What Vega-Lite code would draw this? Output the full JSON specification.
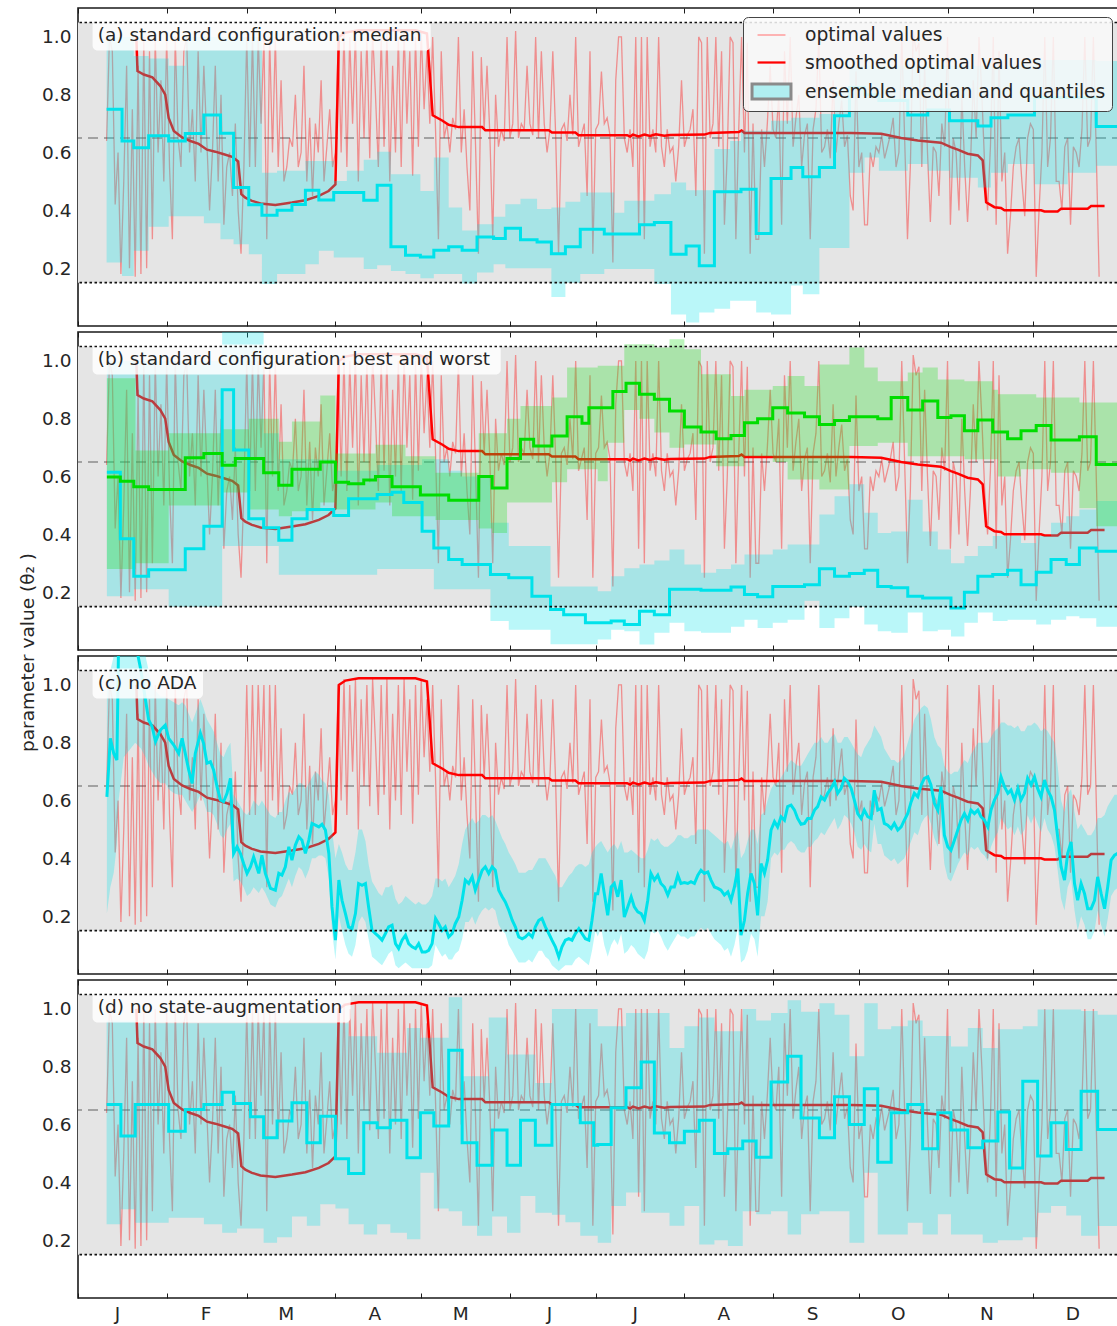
{
"$schema":"https://vega.github.io/schema/vega-lite/v6.json",
"padding":{"left":17,"top":6,"right":0,"bottom":0},
"background":"white",
"spacing":6,
"bounds":"flush",
"resolve":{"scale":{"shape":"independent","stroke":"independent","fill":"independent","strokeWidth":"independent"},"legend":{"shape":"independent","stroke":"independent","fill":"independent","strokeWidth":"independent"}},
"config":{
 "view":{"stroke":"#1a1a1a","strokeWidth":1.6},
 "font":"DejaVu Sans",
 "axis":{"domain":false,"grid":false,"tickColor":"#1a1a1a","tickSize":-5,"tickWidth":1,"labelFont":"DejaVu Sans","labelFontSize":18.5,"labelColor":"#262626","titleFont":"DejaVu Sans","titleFontSize":18.5,"titleColor":"#262626","titleFontWeight":"normal"}
},
"datasets":{
"opt":[{"d":10,"v":0.64},{"d":11,"v":1.0},{"d":12,"v":0.95},{"d":13,"v":0.42},{"d":14,"v":0.6},{"d":15,"v":0.18},{"d":16,"v":0.5},{"d":17,"v":0.9},{"d":18,"v":0.2},{"d":19,"v":0.75},{"d":20,"v":0.17},{"d":21,"v":0.9},{"d":22,"v":0.18},{"d":23,"v":1.0},{"d":24,"v":0.2},{"d":25,"v":0.95},{"d":26,"v":0.3},{"d":27,"v":1.0},{"d":28,"v":0.6},{"d":29,"v":0.85},{"d":30,"v":0.5},{"d":31,"v":1.0},{"d":32,"v":0.55},{"d":33,"v":0.3},{"d":34,"v":1.0},{"d":35,"v":0.65},{"d":36,"v":0.55},{"d":37,"v":0.95},{"d":38,"v":1.0},{"d":39,"v":0.6},{"d":40,"v":0.75},{"d":41,"v":0.5},{"d":42,"v":0.95},{"d":43,"v":0.6},{"d":44,"v":0.9},{"d":45,"v":0.65},{"d":46,"v":0.4},{"d":47,"v":0.6},{"d":48,"v":0.9},{"d":49,"v":0.5},{"d":50,"v":0.8},{"d":51,"v":0.35},{"d":52,"v":0.55},{"d":53,"v":0.6},{"d":54,"v":0.45},{"d":55,"v":0.7},{"d":56,"v":0.4},{"d":57,"v":0.25},{"d":58,"v":0.55},{"d":59,"v":1.0},{"d":60,"v":0.55},{"d":61,"v":1.0},{"d":62,"v":0.55},{"d":63,"v":1.0},{"d":64,"v":0.7},{"d":65,"v":1.0},{"d":66,"v":0.3},{"d":67,"v":1.0},{"d":68,"v":0.6},{"d":69,"v":1.0},{"d":70,"v":0.55},{"d":71,"v":0.85},{"d":72,"v":0.5},{"d":73,"v":0.55},{"d":74,"v":0.65},{"d":75,"v":0.62},{"d":76,"v":0.8},{"d":77,"v":0.55},{"d":78,"v":0.6},{"d":79,"v":0.9},{"d":80,"v":0.5},{"d":81,"v":0.72},{"d":82,"v":0.45},{"d":83,"v":0.7},{"d":84,"v":0.6},{"d":85,"v":0.85},{"d":86,"v":0.5},{"d":87,"v":0.62},{"d":88,"v":0.75},{"d":89,"v":0.55},{"d":90,"v":0.6},{"d":91,"v":1.0},{"d":92,"v":0.6},{"d":93,"v":1.02},{"d":94,"v":0.55},{"d":95,"v":1.0},{"d":96,"v":0.7},{"d":97,"v":1.02},{"d":98,"v":0.5},{"d":99,"v":0.95},{"d":100,"v":0.65},{"d":101,"v":1.0},{"d":102,"v":0.58},{"d":103,"v":1.02},{"d":104,"v":0.8},{"d":105,"v":0.55},{"d":106,"v":1.0},{"d":107,"v":0.62},{"d":108,"v":1.02},{"d":109,"v":0.5},{"d":110,"v":0.9},{"d":111,"v":0.6},{"d":112,"v":1.0},{"d":113,"v":0.55},{"d":114,"v":1.02},{"d":115,"v":0.7},{"d":116,"v":0.95},{"d":117,"v":0.52},{"d":118,"v":1.0},{"d":119,"v":0.62},{"d":120,"v":1.02},{"d":121,"v":0.75},{"d":122,"v":0.95},{"d":123,"v":0.7},{"d":124,"v":1.0},{"d":125,"v":0.68},{"d":126,"v":0.3},{"d":127,"v":0.95},{"d":128,"v":0.65},{"d":129,"v":0.7},{"d":130,"v":0.6},{"d":131,"v":0.72},{"d":132,"v":0.68},{"d":133,"v":1.0},{"d":134,"v":0.6},{"d":135,"v":0.75},{"d":136,"v":0.55},{"d":137,"v":0.4},{"d":138,"v":0.95},{"d":139,"v":0.62},{"d":140,"v":0.25},{"d":141,"v":0.93},{"d":142,"v":0.68},{"d":143,"v":0.9},{"d":144,"v":0.66},{"d":145,"v":0.3},{"d":146,"v":0.8},{"d":147,"v":0.62},{"d":148,"v":0.68},{"d":149,"v":0.64},{"d":150,"v":1.0},{"d":151,"v":0.65},{"d":152,"v":0.7},{"d":153,"v":1.02},{"d":154,"v":0.65},{"d":155,"v":0.7},{"d":156,"v":0.68},{"d":157,"v":0.9},{"d":158,"v":0.7},{"d":159,"v":0.66},{"d":160,"v":1.0},{"d":161,"v":0.65},{"d":162,"v":0.95},{"d":163,"v":0.7},{"d":164,"v":0.6},{"d":165,"v":0.68},{"d":166,"v":0.95},{"d":167,"v":0.66},{"d":168,"v":0.25},{"d":169,"v":0.68},{"d":170,"v":0.7},{"d":171,"v":0.64},{"d":172,"v":0.8},{"d":173,"v":0.66},{"d":174,"v":1.0},{"d":175,"v":0.62},{"d":176,"v":0.66},{"d":177,"v":0.7},{"d":178,"v":0.45},{"d":179,"v":0.95},{"d":180,"v":0.25},{"d":181,"v":0.68},{"d":182,"v":0.7},{"d":183,"v":0.88},{"d":184,"v":0.7},{"d":185,"v":0.72},{"d":186,"v":0.66},{"d":187,"v":0.22},{"d":188,"v":0.85},{"d":189,"v":1.0},{"d":190,"v":1.0},{"d":191,"v":0.65},{"d":192,"v":0.6},{"d":193,"v":0.68},{"d":194,"v":0.55},{"d":195,"v":1.0},{"d":196,"v":0.35},{"d":197,"v":1.0},{"d":198,"v":0.3},{"d":199,"v":1.0},{"d":200,"v":0.62},{"d":201,"v":0.68},{"d":202,"v":0.6},{"d":203,"v":1.0},{"d":204,"v":0.62},{"d":205,"v":0.55},{"d":206,"v":0.68},{"d":207,"v":0.6},{"d":208,"v":0.62},{"d":209,"v":0.5},{"d":210,"v":0.62},{"d":211,"v":0.85},{"d":212,"v":0.62},{"d":213,"v":0.66},{"d":214,"v":0.68},{"d":215,"v":0.75},{"d":216,"v":0.45},{"d":217,"v":1.0},{"d":218,"v":0.98},{"d":219,"v":0.25},{"d":220,"v":1.0},{"d":221,"v":0.65},{"d":222,"v":0.7},{"d":223,"v":1.0},{"d":224,"v":0.62},{"d":225,"v":0.95},{"d":226,"v":0.35},{"d":227,"v":0.6},{"d":228,"v":1.0},{"d":229,"v":0.98},{"d":230,"v":0.3},{"d":231,"v":0.68},{"d":232,"v":1.0},{"d":233,"v":0.6},{"d":234,"v":0.98},{"d":235,"v":0.25},{"d":236,"v":0.7},{"d":237,"v":0.3},{"d":238,"v":0.3},{"d":239,"v":0.68},{"d":240,"v":0.55},{"d":241,"v":0.7},{"d":242,"v":0.9},{"d":243,"v":0.68},{"d":244,"v":0.65},{"d":245,"v":0.8},{"d":246,"v":0.35},{"d":247,"v":0.95},{"d":248,"v":0.7},{"d":249,"v":1.0},{"d":250,"v":0.62},{"d":251,"v":0.72},{"d":252,"v":0.8},{"d":253,"v":0.55},{"d":254,"v":0.66},{"d":255,"v":0.7},{"d":256,"v":0.3},{"d":257,"v":0.68},{"d":258,"v":0.75},{"d":259,"v":1.0},{"d":260,"v":0.6},{"d":261,"v":0.62},{"d":262,"v":0.68},{"d":263,"v":0.58},{"d":264,"v":0.85},{"d":265,"v":0.6},{"d":266,"v":0.7},{"d":267,"v":0.78},{"d":268,"v":0.62},{"d":269,"v":0.66},{"d":270,"v":0.45},{"d":271,"v":0.4},{"d":272,"v":0.88},{"d":273,"v":0.55},{"d":274,"v":0.6},{"d":275,"v":0.35},{"d":276,"v":0.35},{"d":277,"v":0.6},{"d":278,"v":0.55},{"d":279,"v":0.62},{"d":280,"v":0.6},{"d":281,"v":0.66},{"d":282,"v":0.58},{"d":283,"v":0.62},{"d":284,"v":0.66},{"d":285,"v":0.72},{"d":286,"v":0.55},{"d":287,"v":0.6},{"d":288,"v":1.0},{"d":289,"v":0.65},{"d":290,"v":0.3},{"d":291,"v":0.55},{"d":292,"v":1.02},{"d":293,"v":0.95},{"d":294,"v":0.98},{"d":295,"v":0.55},{"d":296,"v":0.9},{"d":297,"v":0.6},{"d":298,"v":0.36},{"d":299,"v":0.62},{"d":300,"v":0.6},{"d":301,"v":0.45},{"d":302,"v":0.7},{"d":303,"v":0.62},{"d":304,"v":1.0},{"d":305,"v":0.35},{"d":306,"v":0.65},{"d":307,"v":0.6},{"d":308,"v":0.4},{"d":309,"v":0.8},{"d":310,"v":0.55},{"d":311,"v":0.36},{"d":312,"v":0.55},{"d":313,"v":0.85},{"d":314,"v":0.65},{"d":315,"v":1.0},{"d":316,"v":0.8},{"d":317,"v":0.55},{"d":318,"v":0.4},{"d":319,"v":0.62},{"d":320,"v":1.0},{"d":321,"v":0.35},{"d":322,"v":0.95},{"d":323,"v":0.5},{"d":324,"v":0.6},{"d":325,"v":0.25},{"d":326,"v":0.38},{"d":327,"v":0.55},{"d":328,"v":0.62},{"d":329,"v":0.65},{"d":330,"v":0.5},{"d":331,"v":0.38},{"d":332,"v":0.65},{"d":333,"v":0.7},{"d":334,"v":0.68},{"d":335,"v":0.17},{"d":336,"v":0.4},{"d":337,"v":0.6},{"d":338,"v":1.0},{"d":339,"v":0.55},{"d":340,"v":0.65},{"d":341,"v":1.0},{"d":342,"v":0.5},{"d":343,"v":0.5},{"d":344,"v":0.4},{"d":345,"v":0.62},{"d":346,"v":0.65},{"d":347,"v":0.35},{"d":348,"v":0.62},{"d":349,"v":0.6},{"d":350,"v":0.55},{"d":351,"v":0.68},{"d":352,"v":1.0},{"d":353,"v":0.62},{"d":354,"v":0.65},{"d":355,"v":1.0},{"d":356,"v":0.6},{"d":357,"v":0.17}],
"smooth":[{"d":20.4,"v":1.0},{"d":20.8,"v":0.882},{"d":23,"v":0.87},{"d":26,"v":0.86},{"d":28.8,"v":0.83},{"d":30.5,"v":0.8},{"d":31.7,"v":0.72},{"d":33.5,"v":0.675},{"d":36.4,"v":0.652},{"d":39.3,"v":0.64},{"d":42.2,"v":0.63},{"d":45.1,"v":0.61},{"d":48,"v":0.603},{"d":51,"v":0.594},{"d":53.9,"v":0.585},{"d":56,"v":0.569},{"d":57.1,"v":0.456},{"d":58.5,"v":0.444},{"d":60.8,"v":0.433},{"d":63.8,"v":0.424},{"d":69,"v":0.419},{"d":74.8,"v":0.427},{"d":79.5,"v":0.435},{"d":84.2,"v":0.45},{"d":87.6,"v":0.467},{"d":90,"v":0.49},{"d":91.2,"v":1.0},{"d":93.5,"v":1.015},{"d":98.1,"v":1.023},{"d":118,"v":1.023},{"d":122,"v":1.012},{"d":124,"v":0.729},{"d":127.3,"v":0.711},{"d":129.6,"v":0.696},{"d":133.1,"v":0.688},{"d":141.3,"v":0.688},{"d":142.4,"v":0.677},{"d":164.6,"v":0.677},{"d":165.7,"v":0.669},{"d":173.9,"v":0.669},{"d":175,"v":0.66},{"d":192,"v":0.66},{"d":193,"v":0.655},{"d":194,"v":0.662},{"d":196,"v":0.656},{"d":198,"v":0.662},{"d":200,"v":0.657},{"d":202,"v":0.663},{"d":205,"v":0.658},{"d":207,"v":0.661},{"d":219,"v":0.662},{"d":221,"v":0.668},{"d":231,"v":0.671},{"d":232,"v":0.676},{"d":233,"v":0.668},{"d":270.3,"v":0.668},{"d":280.8,"v":0.665},{"d":287.8,"v":0.65},{"d":293.6,"v":0.642},{"d":301.7,"v":0.634},{"d":305.2,"v":0.619},{"d":307.6,"v":0.61},{"d":311,"v":0.596},{"d":314.6,"v":0.59},{"d":316.3,"v":0.573},{"d":317.5,"v":0.428},{"d":320.4,"v":0.411},{"d":322.7,"v":0.408},{"d":323.9,"v":0.4},{"d":336.7,"v":0.4},{"d":337.9,"v":0.396},{"d":342.5,"v":0.396},{"d":343.7,"v":0.406},{"d":353,"v":0.406},{"d":354.2,"v":0.415},{"d":358.9,"v":0.415}],
"pa":[{"d":10,"lo":0.22,"med":0.75,"hi":1.0},{"d":15.4,"lo":0.173,"med":0.64,"hi":1.0},{"d":19.5,"lo":0.26,"med":0.617,"hi":0.934},{"d":24.7,"lo":0.343,"med":0.658,"hi":0.925},{"d":31.7,"lo":0.38,"med":0.64,"hi":0.9},{"d":37.5,"lo":0.38,"med":0.666,"hi":1.0},{"d":44,"lo":0.355,"med":0.73,"hi":1.0},{"d":49.8,"lo":0.3,"med":0.667,"hi":1.0},{"d":54.4,"lo":0.283,"med":0.479,"hi":1.0},{"d":59.7,"lo":0.248,"med":0.419,"hi":1.0},{"d":64.3,"lo":0.145,"med":0.383,"hi":0.53},{"d":69.6,"lo":0.18,"med":0.4,"hi":0.537},{"d":74.8,"lo":0.18,"med":0.42,"hi":0.537},{"d":79.5,"lo":0.214,"med":0.47,"hi":0.571},{"d":84.2,"lo":0.26,"med":0.436,"hi":0.571},{"d":89.4,"lo":0.237,"med":0.462,"hi":0.502},{"d":94,"lo":0.237,"med":0.462,"hi":0.537},{"d":99.9,"lo":0.197,"med":0.435,"hi":0.575},{"d":104.6,"lo":0.21,"med":0.487,"hi":0.603},{"d":109.4,"lo":0.19,"med":0.274,"hi":0.525},{"d":114.5,"lo":0.18,"med":0.245,"hi":0.525},{"d":119.7,"lo":0.165,"med":0.239,"hi":0.467},{"d":124.4,"lo":0.18,"med":0.262,"hi":0.583},{"d":129.6,"lo":0.18,"med":0.274,"hi":0.41},{"d":134.3,"lo":0.147,"med":0.262,"hi":0.33},{"d":139.5,"lo":0.185,"med":0.308,"hi":0.352},{"d":145.3,"lo":0.214,"med":0.303,"hi":0.378},{"d":149.4,"lo":0.2,"med":0.338,"hi":0.421},{"d":154.7,"lo":0.2,"med":0.298,"hi":0.44},{"d":160.5,"lo":0.2,"med":0.291,"hi":0.405},{"d":165.5,"lo":0.1,"med":0.25,"hi":0.41},{"d":170.4,"lo":0.15,"med":0.274,"hi":0.43},{"d":175.6,"lo":0.18,"med":0.335,"hi":0.462},{"d":184,"lo":0.197,"med":0.318,"hi":0.462},{"d":187.5,"lo":0.197,"med":0.318,"hi":0.392},{"d":191,"lo":0.197,"med":0.318,"hi":0.433},{"d":196.3,"lo":0.197,"med":0.35,"hi":0.433},{"d":201.5,"lo":0.145,"med":0.358,"hi":0.456},{"d":207.3,"lo":0.04,"med":0.248,"hi":0.496},{"d":212.6,"lo":0.012,"med":0.277,"hi":0.47},{"d":217.2,"lo":0.047,"med":0.208,"hi":0.47},{"d":222.5,"lo":0.06,"med":0.464,"hi":0.612},{"d":228,"lo":0.087,"med":0.464,"hi":0.64},{"d":231.8,"lo":0.087,"med":0.473,"hi":0.675},{"d":237.1,"lo":0.047,"med":0.32,"hi":0.675},{"d":242.3,"lo":0.04,"med":0.51,"hi":0.71},{"d":249.3,"lo":0.14,"med":0.548,"hi":0.72},{"d":253.4,"lo":0.11,"med":0.516,"hi":0.72},{"d":259.2,"lo":0.27,"med":0.548,"hi":0.733},{"d":264.5,"lo":0.27,"med":0.727,"hi":0.82},{"d":269.7,"lo":0.53,"med":0.825,"hi":0.9},{"d":275,"lo":0.583,"med":0.8,"hi":0.9},{"d":280,"lo":0.537,"med":0.78,"hi":0.9},{"d":290.1,"lo":0.56,"med":0.73,"hi":0.9},{"d":297.1,"lo":0.537,"med":0.747,"hi":0.9},{"d":304.7,"lo":0.513,"med":0.71,"hi":0.9},{"d":314.6,"lo":0.479,"med":0.692,"hi":0.9},{"d":319.2,"lo":0.53,"med":0.72,"hi":0.9},{"d":325.1,"lo":0.56,"med":0.73,"hi":0.9},{"d":334.4,"lo":0.49,"med":0.79,"hi":0.92},{"d":346,"lo":0.53,"med":0.79,"hi":0.92},{"d":356,"lo":0.554,"med":0.69,"hi":0.917},{"d":365,"lo":0.554,"med":0.69,"hi":0.917}],
"pbw":[{"d":10.1,"lo":0.186,"med":0.615,"hi":1.0},{"d":14.8,"lo":0.186,"med":0.385,"hi":1.0},{"d":19.5,"lo":0.21,"med":0.255,"hi":1.0},{"d":24.7,"lo":0.21,"med":0.278,"hi":1.0},{"d":31.7,"lo":0.15,"med":0.278,"hi":1.0},{"d":37.5,"lo":0.15,"med":0.35,"hi":1.0},{"d":44,"lo":0.15,"med":0.428,"hi":1.0},{"d":50.4,"lo":0.36,"med":0.9,"hi":1.15},{"d":54.4,"lo":0.36,"med":0.692,"hi":1.15},{"d":59.7,"lo":0.36,"med":0.454,"hi":1.15},{"d":64.9,"lo":0.36,"med":0.423,"hi":0.75},{"d":70.2,"lo":0.26,"med":0.38,"hi":0.66},{"d":74.8,"lo":0.26,"med":0.454,"hi":0.66},{"d":80.1,"lo":0.26,"med":0.486,"hi":0.66},{"d":89.4,"lo":0.26,"med":0.465,"hi":0.62},{"d":94.6,"lo":0.26,"med":0.523,"hi":0.62},{"d":104.6,"lo":0.28,"med":0.538,"hi":0.64},{"d":109.8,"lo":0.28,"med":0.546,"hi":0.64},{"d":113.9,"lo":0.28,"med":0.51,"hi":0.64},{"d":120.3,"lo":0.28,"med":0.411,"hi":0.66},{"d":124.4,"lo":0.21,"med":0.353,"hi":0.66},{"d":129.6,"lo":0.21,"med":0.313,"hi":0.62},{"d":134.3,"lo":0.21,"med":0.296,"hi":0.6},{"d":144.2,"lo":0.1,"med":0.261,"hi":0.44},{"d":150.6,"lo":0.07,"med":0.25,"hi":0.36},{"d":158.7,"lo":0.07,"med":0.186,"hi":0.36},{"d":165.2,"lo":0.02,"med":0.14,"hi":0.22},{"d":169.8,"lo":0.02,"med":0.122,"hi":0.22},{"d":177.4,"lo":0.02,"med":0.094,"hi":0.22},{"d":181.7,"lo":0.036,"med":0.094,"hi":0.203},{"d":186.4,"lo":0.07,"med":0.1,"hi":0.255},{"d":191,"lo":0.065,"med":0.088,"hi":0.283},{"d":196.3,"lo":0.019,"med":0.134,"hi":0.296},{"d":201.5,"lo":0.06,"med":0.122,"hi":0.31},{"d":206.8,"lo":0.094,"med":0.21,"hi":0.348},{"d":212,"lo":0.065,"med":0.21,"hi":0.296},{"d":217.8,"lo":0.06,"med":0.207,"hi":0.267},{"d":223.1,"lo":0.06,"med":0.207,"hi":0.28},{"d":228.3,"lo":0.08,"med":0.218,"hi":0.296},{"d":233,"lo":0.105,"med":0.192,"hi":0.33},{"d":237.6,"lo":0.076,"med":0.184,"hi":0.33},{"d":242.9,"lo":0.094,"med":0.22,"hi":0.348},{"d":248.1,"lo":0.105,"med":0.22,"hi":0.365},{"d":254,"lo":0.17,"med":0.226,"hi":0.365},{"d":259.2,"lo":0.076,"med":0.281,"hi":0.469},{"d":264.5,"lo":0.11,"med":0.255,"hi":0.532},{"d":269.7,"lo":0.15,"med":0.265,"hi":0.573},{"d":274.9,"lo":0.088,"med":0.276,"hi":0.475},{"d":279.6,"lo":0.065,"med":0.22,"hi":0.405},{"d":284.3,"lo":0.06,"med":0.215,"hi":0.41},{"d":290.1,"lo":0.13,"med":0.186,"hi":0.52},{"d":295.3,"lo":0.065,"med":0.18,"hi":0.41},{"d":300.6,"lo":0.07,"med":0.18,"hi":0.348},{"d":305.2,"lo":0.047,"med":0.145,"hi":0.3},{"d":309.9,"lo":0.094,"med":0.2,"hi":0.325},{"d":314.6,"lo":0.13,"med":0.255,"hi":0.36},{"d":319.8,"lo":0.1,"med":0.261,"hi":0.394},{"d":325,"lo":0.105,"med":0.276,"hi":0.394},{"d":329.7,"lo":0.105,"med":0.226,"hi":0.37},{"d":335,"lo":0.088,"med":0.269,"hi":0.394},{"d":340.2,"lo":0.105,"med":0.313,"hi":0.44},{"d":345.5,"lo":0.117,"med":0.296,"hi":0.463},{"d":350.1,"lo":0.11,"med":0.353,"hi":0.486},{"d":356,"lo":0.08,"med":0.342,"hi":0.515},{"d":365,"lo":0.08,"med":0.342,"hi":0.515}],
"pbb":[{"d":10.1,"lo":0.28,"med":0.598,"hi":0.94},{"d":14.8,"lo":0.28,"med":0.584,"hi":0.94},{"d":19.5,"lo":0.28,"med":0.565,"hi":0.94},{"d":20.1,"lo":0.3,"med":0.565,"hi":0.69},{"d":24.7,"lo":0.3,"med":0.555,"hi":0.69},{"d":31.7,"lo":0.5,"med":0.555,"hi":0.75},{"d":37.5,"lo":0.5,"med":0.665,"hi":0.75},{"d":44,"lo":0.5,"med":0.68,"hi":0.75},{"d":50.4,"lo":0.545,"med":0.639,"hi":0.764},{"d":55,"lo":0.545,"med":0.662,"hi":0.764},{"d":59.7,"lo":0.486,"med":0.662,"hi":0.8},{"d":64.9,"lo":0.486,"med":0.613,"hi":0.8},{"d":70.2,"lo":0.463,"med":0.57,"hi":0.72},{"d":74.8,"lo":0.48,"med":0.625,"hi":0.79},{"d":84.7,"lo":0.51,"med":0.65,"hi":0.88},{"d":90,"lo":0.486,"med":0.58,"hi":0.68},{"d":94.6,"lo":0.486,"med":0.575,"hi":0.68},{"d":99.9,"lo":0.486,"med":0.588,"hi":0.68},{"d":104,"lo":0.51,"med":0.6,"hi":0.71},{"d":109.8,"lo":0.463,"med":0.565,"hi":0.71},{"d":114.5,"lo":0.463,"med":0.565,"hi":0.67},{"d":119.7,"lo":0.463,"med":0.536,"hi":0.67},{"d":125,"lo":0.45,"med":0.536,"hi":0.613},{"d":129.6,"lo":0.45,"med":0.518,"hi":0.613},{"d":140.1,"lo":0.42,"med":0.6,"hi":0.75},{"d":144.8,"lo":0.405,"med":0.56,"hi":0.75},{"d":150,"lo":0.51,"med":0.662,"hi":0.8},{"d":154.7,"lo":0.51,"med":0.729,"hi":0.844},{"d":159.3,"lo":0.51,"med":0.706,"hi":0.844},{"d":165.7,"lo":0.58,"med":0.74,"hi":0.873},{"d":171,"lo":0.625,"med":0.807,"hi":0.977},{"d":176.2,"lo":0.625,"med":0.784,"hi":0.977},{"d":178.6,"lo":0.625,"med":0.838,"hi":0.977},{"d":181.7,"lo":0.584,"med":0.838,"hi":0.983},{"d":185.2,"lo":0.717,"med":0.838,"hi":0.983},{"d":187,"lo":0.717,"med":0.894,"hi":0.983},{"d":191,"lo":0.83,"med":0.894,"hi":1.058},{"d":191.6,"lo":0.83,"med":0.923,"hi":1.058},{"d":196.3,"lo":0.8,"med":0.885,"hi":1.058},{"d":201.5,"lo":0.752,"med":0.867,"hi":1.046},{"d":206.8,"lo":0.7,"med":0.827,"hi":1.075},{"d":212,"lo":0.711,"med":0.771,"hi":1.04},{"d":217.8,"lo":0.711,"med":0.754,"hi":0.954},{"d":223.1,"lo":0.636,"med":0.731,"hi":0.954},{"d":228.3,"lo":0.636,"med":0.742,"hi":0.879},{"d":233,"lo":0.67,"med":0.786,"hi":0.9},{"d":237.6,"lo":0.67,"med":0.8,"hi":0.9},{"d":242.9,"lo":0.65,"med":0.838,"hi":0.913},{"d":248.1,"lo":0.59,"med":0.82,"hi":0.948},{"d":254,"lo":0.59,"med":0.807,"hi":0.913},{"d":259.2,"lo":0.555,"med":0.78,"hi":0.988},{"d":264.5,"lo":0.555,"med":0.794,"hi":0.988},{"d":269.7,"lo":0.706,"med":0.807,"hi":1.046},{"d":274.9,"lo":0.706,"med":0.807,"hi":0.977},{"d":279.6,"lo":0.717,"med":0.8,"hi":0.93},{"d":284.3,"lo":0.717,"med":0.873,"hi":0.93},{"d":290.1,"lo":0.67,"med":0.83,"hi":0.96},{"d":295.3,"lo":0.67,"med":0.861,"hi":0.977},{"d":300.6,"lo":0.67,"med":0.804,"hi":0.936},{"d":305.2,"lo":0.67,"med":0.81,"hi":0.936},{"d":309.9,"lo":0.66,"med":0.758,"hi":0.93},{"d":314.6,"lo":0.66,"med":0.796,"hi":0.93},{"d":319.8,"lo":0.66,"med":0.754,"hi":0.9},{"d":321.6,"lo":0.6,"med":0.754,"hi":0.885},{"d":325,"lo":0.6,"med":0.731,"hi":0.885},{"d":329.7,"lo":0.625,"med":0.758,"hi":0.885},{"d":335,"lo":0.625,"med":0.777,"hi":0.873},{"d":340.2,"lo":0.613,"med":0.726,"hi":0.873},{"d":350.1,"lo":0.49,"med":0.738,"hi":0.856},{"d":356,"lo":0.428,"med":0.642,"hi":0.856},{"d":365,"lo":0.428,"med":0.642,"hi":0.856}],
"pc":[{"d":10.1,"lo":0.21,"med":0.613,"hi":0.99},{"d":11.3,"lo":0.3,"med":0.815,"hi":1.05},{"d":12.5,"lo":0.35,"med":0.763,"hi":1.1},{"d":13.6,"lo":0.45,"med":0.74,"hi":1.15},{"d":14.2,"lo":0.6,"med":1.15,"hi":1.2},{"d":16,"lo":0.75,"med":1.2,"hi":1.25},{"d":20,"lo":0.8,"med":1.15,"hi":1.2},{"d":22,"lo":0.78,"med":1.05,"hi":1.15},{"d":23.6,"lo":0.75,"med":0.948,"hi":1.1},{"d":24.7,"lo":0.72,"med":0.879,"hi":1.05},{"d":25.9,"lo":0.7,"med":0.856,"hi":1.0},{"d":27.1,"lo":0.68,"med":0.804,"hi":0.98},{"d":28.8,"lo":0.66,"med":0.844,"hi":0.96},{"d":30.5,"lo":0.66,"med":0.861,"hi":0.96},{"d":31.7,"lo":0.64,"med":0.815,"hi":0.95},{"d":33.5,"lo":0.625,"med":0.792,"hi":0.94},{"d":35.2,"lo":0.62,"med":0.763,"hi":0.93},{"d":36.4,"lo":0.62,"med":0.815,"hi":0.94},{"d":37.5,"lo":0.6,"med":0.763,"hi":0.93},{"d":38.7,"lo":0.58,"med":0.706,"hi":0.9},{"d":39.9,"lo":0.56,"med":0.659,"hi":0.87},{"d":41,"lo":0.58,"med":0.763,"hi":0.9},{"d":42.8,"lo":0.62,"med":0.833,"hi":0.95},{"d":43.9,"lo":0.6,"med":0.798,"hi":0.92},{"d":45.1,"lo":0.56,"med":0.729,"hi":0.88},{"d":46.3,"lo":0.56,"med":0.734,"hi":0.86},{"d":47.4,"lo":0.55,"med":0.706,"hi":0.84},{"d":48.6,"lo":0.52,"med":0.648,"hi":0.8},{"d":49.8,"lo":0.48,"med":0.602,"hi":0.76},{"d":50.9,"lo":0.47,"med":0.596,"hi":0.75},{"d":52.1,"lo":0.5,"med":0.625,"hi":0.78},{"d":53.3,"lo":0.52,"med":0.677,"hi":0.8},{"d":54.4,"lo":0.32,"med":0.417,"hi":0.62},{"d":55.6,"lo":0.33,"med":0.44,"hi":0.6},{"d":56.8,"lo":0.32,"med":0.417,"hi":0.58},{"d":57.9,"lo":0.3,"med":0.382,"hi":0.56},{"d":59.1,"lo":0.27,"med":0.348,"hi":0.55},{"d":60.3,"lo":0.28,"med":0.371,"hi":0.57},{"d":61.4,"lo":0.3,"med":0.405,"hi":0.6},{"d":63.2,"lo":0.28,"med":0.348,"hi":0.58},{"d":64.3,"lo":0.3,"med":0.411,"hi":0.6},{"d":65.5,"lo":0.28,"med":0.348,"hi":0.58},{"d":67.3,"lo":0.24,"med":0.296,"hi":0.55},{"d":69,"lo":0.23,"med":0.29,"hi":0.54},{"d":70.2,"lo":0.26,"med":0.348,"hi":0.56},{"d":71.3,"lo":0.27,"med":0.342,"hi":0.56},{"d":72.5,"lo":0.3,"med":0.371,"hi":0.6},{"d":73.7,"lo":0.33,"med":0.44,"hi":0.63},{"d":74.8,"lo":0.3,"med":0.394,"hi":0.62},{"d":76,"lo":0.34,"med":0.446,"hi":0.64},{"d":77.2,"lo":0.37,"med":0.475,"hi":0.66},{"d":78.3,"lo":0.36,"med":0.463,"hi":0.66},{"d":79.5,"lo":0.33,"med":0.417,"hi":0.64},{"d":80.7,"lo":0.36,"med":0.463,"hi":0.66},{"d":81.8,"lo":0.4,"med":0.521,"hi":0.68},{"d":83,"lo":0.4,"med":0.515,"hi":0.7},{"d":84.2,"lo":0.41,"med":0.509,"hi":0.69},{"d":85.3,"lo":0.41,"med":0.518,"hi":0.67},{"d":86.5,"lo":0.4,"med":0.498,"hi":0.66},{"d":87.7,"lo":0.33,"med":0.417,"hi":0.62},{"d":88.8,"lo":0.15,"med":0.232,"hi":0.5},{"d":90,"lo":0.05,"med":0.117,"hi":0.4},{"d":91.2,"lo":0.2,"med":0.325,"hi":0.45},{"d":92.3,"lo":0.15,"med":0.255,"hi":0.42},{"d":93.5,"lo":0.1,"med":0.209,"hi":0.38},{"d":94.6,"lo":0.07,"med":0.163,"hi":0.36},{"d":95.8,"lo":0.06,"med":0.157,"hi":0.36},{"d":97,"lo":0.1,"med":0.209,"hi":0.42},{"d":98.1,"lo":0.18,"med":0.313,"hi":0.5},{"d":99.3,"lo":0.2,"med":0.307,"hi":0.5},{"d":100.5,"lo":0.18,"med":0.313,"hi":0.46},{"d":101.6,"lo":0.12,"med":0.232,"hi":0.38},{"d":102.8,"lo":0.06,"med":0.151,"hi":0.32},{"d":104,"lo":0.05,"med":0.14,"hi":0.3},{"d":105.1,"lo":0.04,"med":0.13,"hi":0.28},{"d":106.3,"lo":0.03,"med":0.117,"hi":0.27},{"d":107.5,"lo":0.05,"med":0.14,"hi":0.3},{"d":108.6,"lo":0.07,"med":0.163,"hi":0.3},{"d":109.8,"lo":0.08,"med":0.169,"hi":0.31},{"d":111,"lo":0.03,"med":0.105,"hi":0.26},{"d":112.1,"lo":0.02,"med":0.088,"hi":0.24},{"d":113.3,"lo":0.03,"med":0.117,"hi":0.25},{"d":114.5,"lo":0.04,"med":0.134,"hi":0.27},{"d":115.6,"lo":0.03,"med":0.105,"hi":0.26},{"d":116.8,"lo":0.02,"med":0.094,"hi":0.25},{"d":118,"lo":0.02,"med":0.088,"hi":0.24},{"d":119.1,"lo":0.02,"med":0.105,"hi":0.25},{"d":120.3,"lo":0.02,"med":0.076,"hi":0.24},{"d":121.5,"lo":0.02,"med":0.076,"hi":0.24},{"d":122.6,"lo":0.02,"med":0.082,"hi":0.25},{"d":123.8,"lo":0.03,"med":0.105,"hi":0.27},{"d":125,"lo":0.1,"med":0.192,"hi":0.33},{"d":126.1,"lo":0.08,"med":0.174,"hi":0.33},{"d":127.3,"lo":0.06,"med":0.151,"hi":0.32},{"d":128.4,"lo":0.07,"med":0.163,"hi":0.33},{"d":129.6,"lo":0.05,"med":0.128,"hi":0.3},{"d":130.8,"lo":0.05,"med":0.14,"hi":0.32},{"d":131.9,"lo":0.07,"med":0.174,"hi":0.34},{"d":133.1,"lo":0.08,"med":0.197,"hi":0.38},{"d":134.3,"lo":0.12,"med":0.255,"hi":0.45},{"d":135.4,"lo":0.18,"med":0.325,"hi":0.5},{"d":136.6,"lo":0.18,"med":0.313,"hi":0.52},{"d":137.8,"lo":0.2,"med":0.336,"hi":0.54},{"d":138.9,"lo":0.17,"med":0.29,"hi":0.52},{"d":140.1,"lo":0.2,"med":0.325,"hi":0.53},{"d":141.3,"lo":0.22,"med":0.359,"hi":0.55},{"d":142.4,"lo":0.23,"med":0.371,"hi":0.55},{"d":143.6,"lo":0.22,"med":0.348,"hi":0.54},{"d":144.8,"lo":0.23,"med":0.371,"hi":0.55},{"d":145.9,"lo":0.22,"med":0.359,"hi":0.53},{"d":147.1,"lo":0.17,"med":0.29,"hi":0.5},{"d":148.3,"lo":0.15,"med":0.267,"hi":0.47},{"d":149.4,"lo":0.14,"med":0.249,"hi":0.45},{"d":150.6,"lo":0.1,"med":0.221,"hi":0.42},{"d":151.8,"lo":0.08,"med":0.186,"hi":0.4},{"d":152.9,"lo":0.06,"med":0.163,"hi":0.38},{"d":154.1,"lo":0.04,"med":0.128,"hi":0.35},{"d":155.3,"lo":0.04,"med":0.122,"hi":0.35},{"d":156.4,"lo":0.04,"med":0.128,"hi":0.35},{"d":157.6,"lo":0.05,"med":0.14,"hi":0.36},{"d":158.8,"lo":0.04,"med":0.128,"hi":0.36},{"d":159.9,"lo":0.06,"med":0.163,"hi":0.38},{"d":161.1,"lo":0.08,"med":0.186,"hi":0.4},{"d":162.2,"lo":0.08,"med":0.192,"hi":0.4},{"d":163.4,"lo":0.06,"med":0.163,"hi":0.4},{"d":164.6,"lo":0.05,"med":0.14,"hi":0.38},{"d":165.7,"lo":0.03,"med":0.117,"hi":0.36},{"d":166.9,"lo":0.02,"med":0.094,"hi":0.34},{"d":168.1,"lo":0.01,"med":0.059,"hi":0.3},{"d":169.2,"lo":0.02,"med":0.094,"hi":0.3},{"d":170.4,"lo":0.03,"med":0.117,"hi":0.32},{"d":171.6,"lo":0.03,"med":0.122,"hi":0.34},{"d":172.7,"lo":0.03,"med":0.117,"hi":0.35},{"d":173.9,"lo":0.05,"med":0.14,"hi":0.37},{"d":175.1,"lo":0.06,"med":0.157,"hi":0.38},{"d":176.2,"lo":0.05,"med":0.14,"hi":0.38},{"d":177.4,"lo":0.04,"med":0.122,"hi":0.37},{"d":178.6,"lo":0.03,"med":0.117,"hi":0.38},{"d":179.7,"lo":0.08,"med":0.186,"hi":0.42},{"d":180.9,"lo":0.15,"med":0.278,"hi":0.44},{"d":181.7,"lo":0.13,"med":0.278,"hi":0.45},{"d":182.9,"lo":0.16,"med":0.348,"hi":0.46},{"d":184,"lo":0.1,"med":0.278,"hi":0.44},{"d":185.2,"lo":0.06,"med":0.203,"hi":0.42},{"d":186.4,"lo":0.1,"med":0.301,"hi":0.44},{"d":187.5,"lo":0.12,"med":0.313,"hi":0.45},{"d":188.7,"lo":0.1,"med":0.267,"hi":0.43},{"d":189.9,"lo":0.14,"med":0.325,"hi":0.46},{"d":191,"lo":0.07,"med":0.197,"hi":0.42},{"d":192.2,"lo":0.08,"med":0.232,"hi":0.42},{"d":193.4,"lo":0.1,"med":0.267,"hi":0.43},{"d":194.5,"lo":0.09,"med":0.232,"hi":0.42},{"d":195.7,"lo":0.07,"med":0.215,"hi":0.41},{"d":196.9,"lo":0.06,"med":0.209,"hi":0.4},{"d":198,"lo":0.05,"med":0.186,"hi":0.4},{"d":199.2,"lo":0.08,"med":0.255,"hi":0.43},{"d":200.3,"lo":0.15,"med":0.348,"hi":0.47},{"d":201.5,"lo":0.14,"med":0.325,"hi":0.46},{"d":202.7,"lo":0.15,"med":0.342,"hi":0.47},{"d":203.8,"lo":0.13,"med":0.313,"hi":0.45},{"d":205,"lo":0.1,"med":0.301,"hi":0.44},{"d":206.2,"lo":0.08,"med":0.273,"hi":0.44},{"d":207.3,"lo":0.1,"med":0.301,"hi":0.45},{"d":208.5,"lo":0.12,"med":0.301,"hi":0.46},{"d":209.7,"lo":0.14,"med":0.342,"hi":0.48},{"d":210.8,"lo":0.13,"med":0.313,"hi":0.48},{"d":212,"lo":0.13,"med":0.316,"hi":0.47},{"d":213.2,"lo":0.12,"med":0.313,"hi":0.47},{"d":214.3,"lo":0.13,"med":0.319,"hi":0.48},{"d":215.5,"lo":0.13,"med":0.313,"hi":0.48},{"d":216.7,"lo":0.15,"med":0.342,"hi":0.5},{"d":217.8,"lo":0.16,"med":0.359,"hi":0.5},{"d":219,"lo":0.15,"med":0.348,"hi":0.5},{"d":220.2,"lo":0.16,"med":0.353,"hi":0.5},{"d":221.3,"lo":0.14,"med":0.325,"hi":0.49},{"d":222.5,"lo":0.12,"med":0.301,"hi":0.48},{"d":223.7,"lo":0.11,"med":0.296,"hi":0.47},{"d":224.8,"lo":0.1,"med":0.29,"hi":0.46},{"d":226,"lo":0.08,"med":0.273,"hi":0.45},{"d":227.2,"lo":0.09,"med":0.284,"hi":0.46},{"d":228.3,"lo":0.06,"med":0.255,"hi":0.43},{"d":229.5,"lo":0.1,"med":0.301,"hi":0.47},{"d":230.7,"lo":0.16,"med":0.365,"hi":0.5},{"d":231.8,"lo":0.04,"med":0.134,"hi":0.4},{"d":233,"lo":0.05,"med":0.186,"hi":0.42},{"d":234.1,"lo":0.08,"med":0.278,"hi":0.46},{"d":235.3,"lo":0.14,"med":0.348,"hi":0.5},{"d":236.5,"lo":0.12,"med":0.313,"hi":0.5},{"d":237.6,"lo":0.06,"med":0.203,"hi":0.45},{"d":238.8,"lo":0.2,"med":0.382,"hi":0.55},{"d":240,"lo":0.2,"med":0.348,"hi":0.56},{"d":241.1,"lo":0.25,"med":0.394,"hi":0.6},{"d":242.3,"lo":0.4,"med":0.498,"hi":0.64},{"d":243.5,"lo":0.42,"med":0.527,"hi":0.66},{"d":244.6,"lo":0.41,"med":0.509,"hi":0.66},{"d":245.8,"lo":0.43,"med":0.544,"hi":0.68},{"d":247,"lo":0.43,"med":0.532,"hi":0.7},{"d":248.1,"lo":0.45,"med":0.579,"hi":0.72},{"d":249.3,"lo":0.46,"med":0.584,"hi":0.74},{"d":250.5,"lo":0.45,"med":0.567,"hi":0.73},{"d":251.6,"lo":0.43,"med":0.538,"hi":0.72},{"d":252.8,"lo":0.42,"med":0.518,"hi":0.72},{"d":254,"lo":0.42,"med":0.521,"hi":0.74},{"d":255.1,"lo":0.44,"med":0.538,"hi":0.76},{"d":256.3,"lo":0.44,"med":0.538,"hi":0.78},{"d":257.5,"lo":0.46,"med":0.567,"hi":0.8},{"d":258.6,"lo":0.47,"med":0.579,"hi":0.8},{"d":259.8,"lo":0.49,"med":0.613,"hi":0.82},{"d":261,"lo":0.48,"med":0.602,"hi":0.8},{"d":262.1,"lo":0.5,"med":0.625,"hi":0.8},{"d":263.3,"lo":0.52,"med":0.642,"hi":0.82},{"d":264.5,"lo":0.54,"med":0.665,"hi":0.83},{"d":265.6,"lo":0.5,"med":0.625,"hi":0.8},{"d":266.8,"lo":0.52,"med":0.642,"hi":0.8},{"d":267.9,"lo":0.55,"med":0.677,"hi":0.82},{"d":269.1,"lo":0.54,"med":0.665,"hi":0.82},{"d":270.3,"lo":0.52,"med":0.642,"hi":0.8},{"d":271.4,"lo":0.49,"med":0.602,"hi":0.78},{"d":272.6,"lo":0.44,"med":0.555,"hi":0.76},{"d":273.8,"lo":0.43,"med":0.538,"hi":0.75},{"d":274.9,"lo":0.45,"med":0.567,"hi":0.78},{"d":276.1,"lo":0.43,"med":0.544,"hi":0.8},{"d":277.3,"lo":0.42,"med":0.538,"hi":0.82},{"d":278.4,"lo":0.52,"med":0.636,"hi":0.86},{"d":279.6,"lo":0.45,"med":0.567,"hi":0.84},{"d":280.8,"lo":0.45,"med":0.573,"hi":0.82},{"d":281.9,"lo":0.41,"med":0.521,"hi":0.78},{"d":283.1,"lo":0.4,"med":0.515,"hi":0.76},{"d":284.3,"lo":0.39,"med":0.503,"hi":0.74},{"d":285.4,"lo":0.4,"med":0.521,"hi":0.74},{"d":286.6,"lo":0.38,"med":0.498,"hi":0.73},{"d":287.8,"lo":0.39,"med":0.509,"hi":0.74},{"d":288.9,"lo":0.4,"med":0.532,"hi":0.76},{"d":290.1,"lo":0.43,"med":0.555,"hi":0.8},{"d":291.3,"lo":0.46,"med":0.596,"hi":0.84},{"d":292.4,"lo":0.49,"med":0.625,"hi":0.88},{"d":293.6,"lo":0.48,"med":0.613,"hi":0.9},{"d":294.8,"lo":0.52,"med":0.654,"hi":0.92},{"d":295.9,"lo":0.54,"med":0.677,"hi":0.93},{"d":297.1,"lo":0.55,"med":0.682,"hi":0.92},{"d":298.2,"lo":0.52,"med":0.654,"hi":0.88},{"d":299.4,"lo":0.47,"med":0.591,"hi":0.82},{"d":300.6,"lo":0.44,"med":0.567,"hi":0.79},{"d":301.7,"lo":0.52,"med":0.648,"hi":0.78},{"d":302.9,"lo":0.38,"med":0.48,"hi":0.72},{"d":304.1,"lo":0.33,"med":0.44,"hi":0.7},{"d":305.2,"lo":0.32,"med":0.428,"hi":0.69},{"d":306.4,"lo":0.35,"med":0.463,"hi":0.7},{"d":307.6,"lo":0.38,"med":0.498,"hi":0.7},{"d":308.7,"lo":0.4,"med":0.532,"hi":0.72},{"d":309.9,"lo":0.42,"med":0.555,"hi":0.74},{"d":311.1,"lo":0.41,"med":0.532,"hi":0.73},{"d":312.2,"lo":0.44,"med":0.567,"hi":0.76},{"d":313.4,"lo":0.43,"med":0.555,"hi":0.78},{"d":314.6,"lo":0.44,"med":0.567,"hi":0.8},{"d":315.7,"lo":0.42,"med":0.544,"hi":0.8},{"d":316.9,"lo":0.41,"med":0.532,"hi":0.8},{"d":318.1,"lo":0.39,"med":0.509,"hi":0.8},{"d":319.2,"lo":0.44,"med":0.567,"hi":0.82},{"d":320.4,"lo":0.47,"med":0.602,"hi":0.84},{"d":321.6,"lo":0.49,"med":0.625,"hi":0.85},{"d":322.7,"lo":0.54,"med":0.682,"hi":0.87},{"d":323.9,"lo":0.52,"med":0.648,"hi":0.87},{"d":325.1,"lo":0.5,"med":0.625,"hi":0.86},{"d":326.2,"lo":0.51,"med":0.636,"hi":0.86},{"d":327.4,"lo":0.48,"med":0.602,"hi":0.85},{"d":328.6,"lo":0.51,"med":0.642,"hi":0.86},{"d":329.7,"lo":0.48,"med":0.602,"hi":0.84},{"d":330.9,"lo":0.5,"med":0.625,"hi":0.84},{"d":332,"lo":0.55,"med":0.677,"hi":0.86},{"d":333.2,"lo":0.52,"med":0.654,"hi":0.86},{"d":334.4,"lo":0.55,"med":0.682,"hi":0.87},{"d":335.5,"lo":0.52,"med":0.642,"hi":0.86},{"d":336.7,"lo":0.49,"med":0.613,"hi":0.84},{"d":337.9,"lo":0.54,"med":0.671,"hi":0.85},{"d":339,"lo":0.5,"med":0.636,"hi":0.84},{"d":340.2,"lo":0.48,"med":0.613,"hi":0.82},{"d":341.4,"lo":0.44,"med":0.567,"hi":0.8},{"d":342.5,"lo":0.36,"med":0.475,"hi":0.72},{"d":343.7,"lo":0.26,"med":0.371,"hi":0.6},{"d":344.9,"lo":0.22,"med":0.325,"hi":0.56},{"d":346,"lo":0.3,"med":0.417,"hi":0.62},{"d":347.2,"lo":0.33,"med":0.457,"hi":0.64},{"d":348.4,"lo":0.22,"med":0.313,"hi":0.56},{"d":349.5,"lo":0.15,"med":0.255,"hi":0.5},{"d":350.7,"lo":0.2,"med":0.313,"hi":0.52},{"d":351.9,"lo":0.17,"med":0.278,"hi":0.5},{"d":353,"lo":0.12,"med":0.226,"hi":0.48},{"d":354.2,"lo":0.12,"med":0.226,"hi":0.48},{"d":355.4,"lo":0.15,"med":0.255,"hi":0.5},{"d":356.5,"lo":0.22,"med":0.336,"hi":0.54},{"d":357.7,"lo":0.17,"med":0.278,"hi":0.54},{"d":358.9,"lo":0.13,"med":0.226,"hi":0.55},{"d":360,"lo":0.19,"med":0.301,"hi":0.58},{"d":361.2,"lo":0.27,"med":0.394,"hi":0.6},{"d":362.4,"lo":0.29,"med":0.411,"hi":0.62},{"d":364,"lo":0.3,"med":0.42,"hi":0.62}],
"pd":[{"d":10,"lo":0.255,"med":0.669,"hi":0.96},{"d":15,"lo":0.307,"med":0.56,"hi":0.96},{"d":20,"lo":0.26,"med":0.669,"hi":0.95},{"d":31.7,"lo":0.278,"med":0.577,"hi":0.95},{"d":37.5,"lo":0.278,"med":0.652,"hi":0.95},{"d":44,"lo":0.255,"med":0.669,"hi":0.95},{"d":50.4,"lo":0.226,"med":0.712,"hi":0.95},{"d":54.4,"lo":0.226,"med":0.673,"hi":0.95},{"d":55.6,"lo":0.24,"med":0.673,"hi":0.95},{"d":60.3,"lo":0.24,"med":0.627,"hi":0.95},{"d":64.9,"lo":0.191,"med":0.554,"hi":0.95},{"d":69.6,"lo":0.21,"med":0.612,"hi":0.95},{"d":74.8,"lo":0.282,"med":0.675,"hi":0.95},{"d":80,"lo":0.25,"med":0.537,"hi":0.95},{"d":84.7,"lo":0.324,"med":0.629,"hi":0.95},{"d":90,"lo":0.31,"med":0.482,"hi":0.95},{"d":94.6,"lo":0.255,"med":0.431,"hi":0.905},{"d":99.9,"lo":0.22,"med":0.606,"hi":0.905},{"d":104.6,"lo":0.255,"med":0.589,"hi":0.848},{"d":109.2,"lo":0.226,"med":0.615,"hi":0.848},{"d":115,"lo":0.203,"med":0.485,"hi":0.934},{"d":119.7,"lo":0.433,"med":0.641,"hi":0.9},{"d":124.4,"lo":0.31,"med":0.595,"hi":0.9},{"d":129.6,"lo":0.3,"med":0.857,"hi":1.04},{"d":134.3,"lo":0.25,"med":0.537,"hi":0.767},{"d":139.5,"lo":0.215,"med":0.459,"hi":0.767},{"d":143.6,"lo":0.215,"med":0.459,"hi":0.97},{"d":144.8,"lo":0.282,"med":0.581,"hi":0.97},{"d":150,"lo":0.226,"med":0.459,"hi":0.842},{"d":154.7,"lo":0.353,"med":0.615,"hi":0.842},{"d":159.9,"lo":0.295,"med":0.528,"hi":0.744},{"d":165.7,"lo":0.288,"med":0.669,"hi":1.0},{"d":170.4,"lo":0.262,"med":0.669,"hi":1.0},{"d":175.6,"lo":0.215,"med":0.606,"hi":1.0},{"d":180.3,"lo":0.215,"med":0.528,"hi":1.0},{"d":181.7,"lo":0.191,"med":0.531,"hi":0.94},{"d":186.4,"lo":0.318,"med":0.658,"hi":0.94},{"d":191.6,"lo":0.365,"med":0.727,"hi":0.986},{"d":196.9,"lo":0.295,"med":0.816,"hi":0.986},{"d":201.5,"lo":0.295,"med":0.571,"hi":0.986},{"d":206.8,"lo":0.25,"med":0.537,"hi":0.865},{"d":212,"lo":0.318,"med":0.577,"hi":0.94},{"d":217.2,"lo":0.185,"med":0.615,"hi":0.97},{"d":222.5,"lo":0.2,"med":0.5,"hi":0.923},{"d":227.2,"lo":0.18,"med":0.516,"hi":0.923},{"d":232.4,"lo":0.3,"med":0.543,"hi":1.0},{"d":237.1,"lo":0.29,"med":0.487,"hi":0.96},{"d":242.3,"lo":0.3,"med":0.747,"hi":0.986},{"d":248.1,"lo":0.22,"med":0.836,"hi":1.03},{"d":252.8,"lo":0.29,"med":0.623,"hi":0.99},{"d":259.2,"lo":0.3,"med":0.554,"hi":1.02},{"d":264.5,"lo":0.3,"med":0.696,"hi":0.98},{"d":269.7,"lo":0.191,"med":0.6,"hi":0.836},{"d":274.9,"lo":0.433,"med":0.724,"hi":1.02},{"d":279.6,"lo":0.22,"med":0.47,"hi":0.93},{"d":284.3,"lo":0.22,"med":0.641,"hi":0.94},{"d":290.1,"lo":0.26,"med":0.669,"hi":0.96},{"d":295.3,"lo":0.22,"med":0.516,"hi":0.906},{"d":300.6,"lo":0.29,"med":0.641,"hi":0.906},{"d":305.2,"lo":0.22,"med":0.581,"hi":0.87},{"d":311.1,"lo":0.22,"med":0.52,"hi":0.934},{"d":316.3,"lo":0.191,"med":0.543,"hi":0.865},{"d":321.6,"lo":0.2,"med":0.643,"hi":0.93},{"d":325.7,"lo":0.2,"med":0.45,"hi":0.93},{"d":330.3,"lo":0.21,"med":0.75,"hi":0.94},{"d":335.5,"lo":0.295,"med":0.491,"hi":0.998},{"d":340.2,"lo":0.318,"med":0.606,"hi":0.998},{"d":345.5,"lo":0.285,"med":0.514,"hi":0.998},{"d":350.7,"lo":0.215,"med":0.715,"hi":0.993},{"d":356.5,"lo":0.249,"med":0.583,"hi":0.98},{"d":365,"lo":0.249,"med":0.583,"hi":0.98}],
"range":[{"lo":0.15,"hi":1.05}],
"ref":[{"r":0.65}],
"bounds":[{"b":0.15},{"b":1.05}]
},
"vconcat":[
{"width":1044,"height":318,"resolve":{"axis":{"x":"independent","y":"independent"}},"layer":[
 {"data":{"name":"range"},"mark":{"type":"rect","color":"#e5e5e5"},"encoding":{"x":{"datum":0,"type":"quantitative","scale":{"domain":[0,365],"nice":false,"zero":false},"axis":{"orient":"bottom","values":[0,31,59,90,120,151,181,212,243,273,304,334],"labels":false,"title":null}},"x2":{"datum":365},"y":{"field":"lo","type":"quantitative","scale":{"domain":[0,1.1],"nice":false,"zero":false},"axis":{"orient":"left","values":[0.2,0.4,0.6,0.8,1.0],"format":".1f","labelPadding":12,"title":null}},"y2":{"field":"hi"}}},
 {"data":{"name":"ref"},"mark":{"type":"rule","color":"#8c8c8c","strokeDash":[10,6],"strokeWidth":1.5},"encoding":{"y":{"field":"r","type":"quantitative","scale":{"domain":[0,1.1]},"axis":null}}},
 {"data":{"name":"opt"},"mark":{"type":"line","strokeWidth":1.3,"opacity":0.38,"color":"#ff0000","clip":true},"encoding":{"x":{"field":"d","type":"quantitative","scale":{"domain":[0,365]},"axis":null},"y":{"field":"v","type":"quantitative","scale":{"domain":[0,1.1]},"axis":null}}},
 {"data":{"name":"smooth"},"mark":{"type":"line","strokeWidth":2.5,"color":"#ff0000","clip":true},"encoding":{"x":{"field":"d","type":"quantitative","scale":{"domain":[0,365]},"axis":null},"y":{"field":"v","type":"quantitative","scale":{"domain":[0,1.1]},"axis":null}}},
 {"data":{"name":"pa"},"mark":{"type":"area","interpolate":"step-after","opacity":0.27,"color":"#00e2ea","clip":true},"encoding":{"x":{"field":"d","type":"quantitative","scale":{"domain":[0,365]},"axis":null},"y":{"field":"lo","type":"quantitative","scale":{"domain":[0,1.1]},"axis":null},"y2":{"field":"hi"}}},
 {"data":{"name":"pa"},"mark":{"type":"line","interpolate":"step-after","color":"#00e2ea","strokeWidth":3,"clip":true},"encoding":{"x":{"field":"d","type":"quantitative","scale":{"domain":[0,365]},"axis":null},"y":{"field":"med","type":"quantitative","scale":{"domain":[0,1.1]},"axis":null}}},
 {"data":{"values":[{}]},"mark":{"type":"rect","color":"white","opacity":0.85,"cornerRadius":5},"encoding":{"x":{"datum":5.1,"type":"quantitative","scale":{"domain":[0,365]},"axis":{"orient":"top","values":[0,31,59,90,120,151,181,212,243,273,304,334],"labels":false,"title":null}},"x2":{"datum":123.3},"y":{"datum":1.057,"type":"quantitative","scale":{"domain":[0,1.1]},"axis":{"orient":"right","values":[0.2,0.4,0.6,0.8,1.0],"labels":false,"title":null}},"y2":{"datum":0.953}}},
 {"data":{"values":[{}]},"mark":{"type":"text","align":"left","baseline":"middle","fontSize":18.5,"font":"DejaVu Sans","color":"#262626"},"encoding":{"x":{"datum":6.9,"type":"quantitative","axis":null},"y":{"datum":1.008,"type":"quantitative","axis":null},"text":{"value":"(a) standard configuration: median"}}},
 {"data":{"name":"bounds"},"mark":{"type":"rule","color":"#111111","strokeDash":[2.5,2.5],"strokeWidth":1.6},"encoding":{"y":{"field":"b","type":"quantitative","scale":{"domain":[0,1.1]},"axis":null}}},
 {"data":{"values":[{}]},"mark":{"type":"point","opacity":0},"encoding":{
   "shape":{"datum":"optimal values","type":"nominal","scale":{"domain":["optimal values","smoothed optimal values","ensemble median and quantiles"],"range":["M-1.27,0L1.27,0","M-1.27,0L1.27,0","M-1.77,-0.68L1.77,-0.68L1.77,0.68L-1.77,0.68Z"]},
    "legend":{"title":null,"orient":"none","legendX":665,"legendY":9,"labelFont":"DejaVu Sans","labelFontSize":18.7,"labelColor":"#262626","labelLimit":500,"labelOffset":21,"symbolOffset":10,"fillColor":"rgba(250,250,250,0.85)","strokeColor":"#444444","cornerRadius":5,"padding":6,"rowPadding":5,"symbolSize":484}},
   "stroke":{"datum":"optimal values","type":"nominal","scale":{"domain":["optimal values","smoothed optimal values","ensemble median and quantiles"],"range":["#ff9c9c","#ff0000","#8a8a8a"]},"legend":{"title":null}},
   "fill":{"datum":"optimal values","type":"nominal","scale":{"domain":["optimal values","smoothed optimal values","ensemble median and quantiles"],"range":["transparent","transparent","#b0eef0"]},"legend":{"title":null}},
   "strokeWidth":{"datum":"optimal values","type":"nominal","scale":{"domain":["optimal values","smoothed optimal values","ensemble median and quantiles"],"range":[1.5,3,1]},"legend":{"title":null}}
 }}
]},
{"width":1044,"height":318,"resolve":{"axis":{"x":"independent","y":"independent"}},"layer":[
 {"data":{"name":"range"},"mark":{"type":"rect","color":"#e5e5e5"},"encoding":{"x":{"datum":0,"type":"quantitative","scale":{"domain":[0,365],"nice":false,"zero":false},"axis":{"orient":"bottom","values":[0,31,59,90,120,151,181,212,243,273,304,334],"labels":false,"title":null}},"x2":{"datum":365},"y":{"field":"lo","type":"quantitative","scale":{"domain":[0,1.1],"nice":false,"zero":false},"axis":{"orient":"left","values":[0.2,0.4,0.6,0.8,1.0],"format":".1f","labelPadding":12,"title":"parameter value (θ₂ )","titleY":320,"titlePadding":4}},"y2":{"field":"hi"}}},
 {"data":{"name":"ref"},"mark":{"type":"rule","color":"#8c8c8c","strokeDash":[10,6],"strokeWidth":1.5},"encoding":{"y":{"field":"r","type":"quantitative","scale":{"domain":[0,1.1]},"axis":null}}},
 {"data":{"name":"opt"},"mark":{"type":"line","strokeWidth":1.3,"opacity":0.38,"color":"#ff0000","clip":true},"encoding":{"x":{"field":"d","type":"quantitative","scale":{"domain":[0,365]},"axis":null},"y":{"field":"v","type":"quantitative","scale":{"domain":[0,1.1]},"axis":null}}},
 {"data":{"name":"smooth"},"mark":{"type":"line","strokeWidth":2.5,"color":"#ff0000","clip":true},"encoding":{"x":{"field":"d","type":"quantitative","scale":{"domain":[0,365]},"axis":null},"y":{"field":"v","type":"quantitative","scale":{"domain":[0,1.1]},"axis":null}}},
 {"data":{"name":"pbw"},"mark":{"type":"area","interpolate":"step-after","opacity":0.27,"color":"#00e2ea","clip":true},"encoding":{"x":{"field":"d","type":"quantitative","scale":{"domain":[0,365]},"axis":null},"y":{"field":"lo","type":"quantitative","scale":{"domain":[0,1.1]},"axis":null},"y2":{"field":"hi"}}},
 {"data":{"name":"pbb"},"mark":{"type":"area","interpolate":"step-after","opacity":0.3,"color":"#22dd22","clip":true},"encoding":{"x":{"field":"d","type":"quantitative","scale":{"domain":[0,365]},"axis":null},"y":{"field":"lo","type":"quantitative","scale":{"domain":[0,1.1]},"axis":null},"y2":{"field":"hi"}}},
 {"data":{"name":"pbw"},"mark":{"type":"line","interpolate":"step-after","color":"#00e2ea","strokeWidth":3,"clip":true},"encoding":{"x":{"field":"d","type":"quantitative","scale":{"domain":[0,365]},"axis":null},"y":{"field":"med","type":"quantitative","scale":{"domain":[0,1.1]},"axis":null}}},
 {"data":{"name":"pbb"},"mark":{"type":"line","interpolate":"step-after","color":"#00dd00","strokeWidth":3,"clip":true},"encoding":{"x":{"field":"d","type":"quantitative","scale":{"domain":[0,365]},"axis":null},"y":{"field":"med","type":"quantitative","scale":{"domain":[0,1.1]},"axis":null}}},
 {"data":{"values":[{}]},"mark":{"type":"rect","color":"white","opacity":0.85,"cornerRadius":5},"encoding":{"x":{"datum":5.1,"type":"quantitative","scale":{"domain":[0,365]},"axis":{"orient":"top","values":[0,31,59,90,120,151,181,212,243,273,304,334],"labels":false,"title":null}},"x2":{"datum":147.8},"y":{"datum":1.057,"type":"quantitative","scale":{"domain":[0,1.1]},"axis":{"orient":"right","values":[0.2,0.4,0.6,0.8,1.0],"labels":false,"title":null}},"y2":{"datum":0.953}}},
 {"data":{"values":[{}]},"mark":{"type":"text","align":"left","baseline":"middle","fontSize":18.5,"font":"DejaVu Sans","color":"#262626"},"encoding":{"x":{"datum":6.9,"type":"quantitative","axis":null},"y":{"datum":1.008,"type":"quantitative","axis":null},"text":{"value":"(b) standard configuration: best and worst"}}},
 {"data":{"name":"bounds"},"mark":{"type":"rule","color":"#111111","strokeDash":[2.5,2.5],"strokeWidth":1.6},"encoding":{"y":{"field":"b","type":"quantitative","scale":{"domain":[0,1.1]},"axis":null}}}
]},
{"width":1044,"height":318,"resolve":{"axis":{"x":"independent","y":"independent"}},"layer":[
 {"data":{"name":"range"},"mark":{"type":"rect","color":"#e5e5e5"},"encoding":{"x":{"datum":0,"type":"quantitative","scale":{"domain":[0,365],"nice":false,"zero":false},"axis":{"orient":"bottom","values":[0,31,59,90,120,151,181,212,243,273,304,334],"labels":false,"title":null}},"x2":{"datum":365},"y":{"field":"lo","type":"quantitative","scale":{"domain":[0,1.1],"nice":false,"zero":false},"axis":{"orient":"left","values":[0.2,0.4,0.6,0.8,1.0],"format":".1f","labelPadding":12,"title":null}},"y2":{"field":"hi"}}},
 {"data":{"name":"ref"},"mark":{"type":"rule","color":"#8c8c8c","strokeDash":[10,6],"strokeWidth":1.5},"encoding":{"y":{"field":"r","type":"quantitative","scale":{"domain":[0,1.1]},"axis":null}}},
 {"data":{"name":"opt"},"mark":{"type":"line","strokeWidth":1.3,"opacity":0.38,"color":"#ff0000","clip":true},"encoding":{"x":{"field":"d","type":"quantitative","scale":{"domain":[0,365]},"axis":null},"y":{"field":"v","type":"quantitative","scale":{"domain":[0,1.1]},"axis":null}}},
 {"data":{"name":"smooth"},"mark":{"type":"line","strokeWidth":2.5,"color":"#ff0000","clip":true},"encoding":{"x":{"field":"d","type":"quantitative","scale":{"domain":[0,365]},"axis":null},"y":{"field":"v","type":"quantitative","scale":{"domain":[0,1.1]},"axis":null}}},
 {"data":{"name":"pc"},"mark":{"type":"area","opacity":0.27,"color":"#00e2ea","clip":true},"encoding":{"x":{"field":"d","type":"quantitative","scale":{"domain":[0,365]},"axis":null},"y":{"field":"lo","type":"quantitative","scale":{"domain":[0,1.1]},"axis":null},"y2":{"field":"hi"}}},
 {"data":{"name":"pc"},"mark":{"type":"line","color":"#00e2ea","strokeWidth":3,"clip":true},"encoding":{"x":{"field":"d","type":"quantitative","scale":{"domain":[0,365]},"axis":null},"y":{"field":"med","type":"quantitative","scale":{"domain":[0,1.1]},"axis":null}}},
 {"data":{"values":[{}]},"mark":{"type":"rect","color":"white","opacity":0.85,"cornerRadius":5},"encoding":{"x":{"datum":5.1,"type":"quantitative","scale":{"domain":[0,365]},"axis":{"orient":"top","values":[0,31,59,90,120,151,181,212,243,273,304,334],"labels":false,"title":null}},"x2":{"datum":43.7},"y":{"datum":1.057,"type":"quantitative","scale":{"domain":[0,1.1]},"axis":{"orient":"right","values":[0.2,0.4,0.6,0.8,1.0],"labels":false,"title":null}},"y2":{"datum":0.953}}},
 {"data":{"values":[{}]},"mark":{"type":"text","align":"left","baseline":"middle","fontSize":18.5,"font":"DejaVu Sans","color":"#262626"},"encoding":{"x":{"datum":6.9,"type":"quantitative","axis":null},"y":{"datum":1.008,"type":"quantitative","axis":null},"text":{"value":"(c) no ADA"}}},
 {"data":{"name":"bounds"},"mark":{"type":"rule","color":"#111111","strokeDash":[2.5,2.5],"strokeWidth":1.6},"encoding":{"y":{"field":"b","type":"quantitative","scale":{"domain":[0,1.1]},"axis":null}}}
]},
{"width":1044,"height":318,"resolve":{"axis":{"x":"independent","y":"independent"}},"layer":[
 {"data":{"name":"range"},"mark":{"type":"rect","color":"#e5e5e5"},"encoding":{"x":{"datum":0,"type":"quantitative","scale":{"domain":[0,365],"nice":false,"zero":false},"axis":{"orient":"bottom","values":[0,31,59,90,120,151,181,212,243,273,304,334],"labelExpr":"['J','F','M','A','M','J','J','A','S','O','N','D'][indexof([0,31,59,90,120,151,181,212,243,273,304,334], datum.value)]","labelOffset":39,"labelFlush":false,"labelOverlap":false,"labelBound":false,"labelPadding":11,"title":null}},"x2":{"datum":365},"y":{"field":"lo","type":"quantitative","scale":{"domain":[0,1.1],"nice":false,"zero":false},"axis":{"orient":"left","values":[0.2,0.4,0.6,0.8,1.0],"format":".1f","labelPadding":12,"title":null}},"y2":{"field":"hi"}}},
 {"data":{"name":"ref"},"mark":{"type":"rule","color":"#8c8c8c","strokeDash":[10,6],"strokeWidth":1.5},"encoding":{"y":{"field":"r","type":"quantitative","scale":{"domain":[0,1.1]},"axis":null}}},
 {"data":{"name":"opt"},"mark":{"type":"line","strokeWidth":1.3,"opacity":0.38,"color":"#ff0000","clip":true},"encoding":{"x":{"field":"d","type":"quantitative","scale":{"domain":[0,365]},"axis":null},"y":{"field":"v","type":"quantitative","scale":{"domain":[0,1.1]},"axis":null}}},
 {"data":{"name":"smooth"},"mark":{"type":"line","strokeWidth":2.5,"color":"#ff0000","clip":true},"encoding":{"x":{"field":"d","type":"quantitative","scale":{"domain":[0,365]},"axis":null},"y":{"field":"v","type":"quantitative","scale":{"domain":[0,1.1]},"axis":null}}},
 {"data":{"name":"pd"},"mark":{"type":"area","interpolate":"step-after","opacity":0.27,"color":"#00e2ea","clip":true},"encoding":{"x":{"field":"d","type":"quantitative","scale":{"domain":[0,365]},"axis":null},"y":{"field":"lo","type":"quantitative","scale":{"domain":[0,1.1]},"axis":null},"y2":{"field":"hi"}}},
 {"data":{"name":"pd"},"mark":{"type":"line","interpolate":"step-after","color":"#00e2ea","strokeWidth":3,"clip":true},"encoding":{"x":{"field":"d","type":"quantitative","scale":{"domain":[0,365]},"axis":null},"y":{"field":"med","type":"quantitative","scale":{"domain":[0,1.1]},"axis":null}}},
 {"data":{"values":[{}]},"mark":{"type":"rect","color":"white","opacity":0.85,"cornerRadius":5},"encoding":{"x":{"datum":5.1,"type":"quantitative","scale":{"domain":[0,365]},"axis":{"orient":"top","values":[0,31,59,90,120,151,181,212,243,273,304,334],"labels":false,"title":null}},"x2":{"datum":95.3},"y":{"datum":1.057,"type":"quantitative","scale":{"domain":[0,1.1]},"axis":{"orient":"right","values":[0.2,0.4,0.6,0.8,1.0],"labels":false,"title":null}},"y2":{"datum":0.953}}},
 {"data":{"values":[{}]},"mark":{"type":"text","align":"left","baseline":"middle","fontSize":18.5,"font":"DejaVu Sans","color":"#262626"},"encoding":{"x":{"datum":6.9,"type":"quantitative","axis":null},"y":{"datum":1.008,"type":"quantitative","axis":null},"text":{"value":"(d) no state-augmentation"}}},
 {"data":{"name":"bounds"},"mark":{"type":"rule","color":"#111111","strokeDash":[2.5,2.5],"strokeWidth":1.6},"encoding":{"y":{"field":"b","type":"quantitative","scale":{"domain":[0,1.1]},"axis":null}}}
]}
]
}
